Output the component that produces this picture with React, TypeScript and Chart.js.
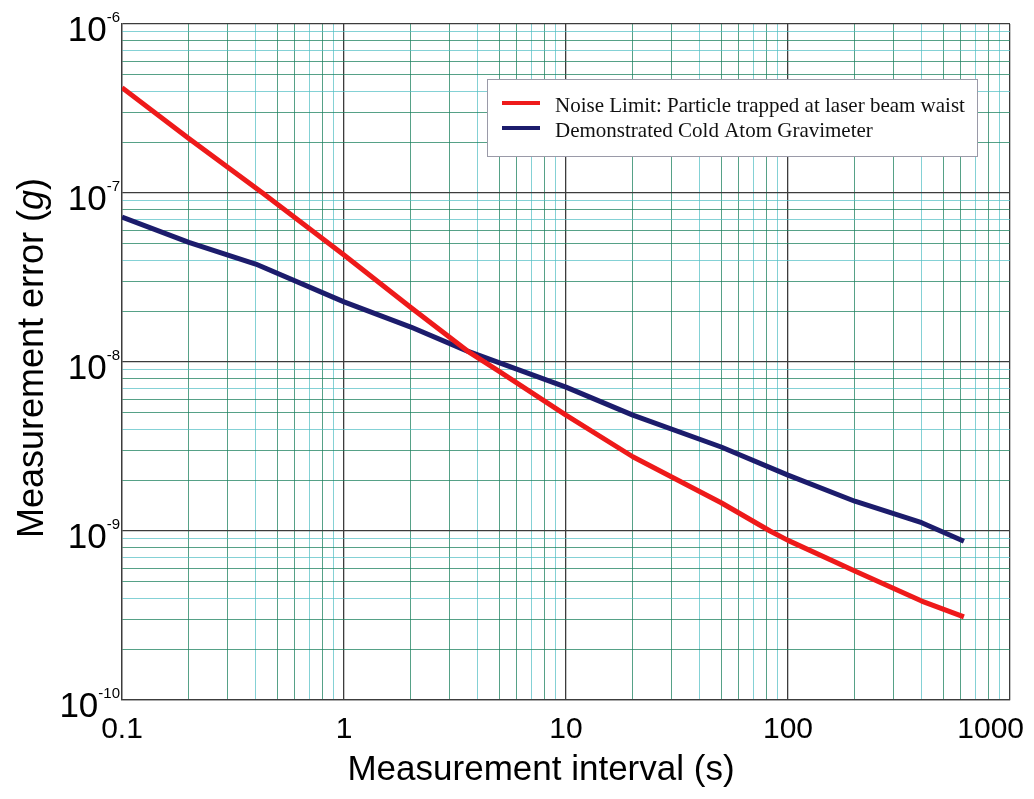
import React, { useEffect, useRef } from "react";
import { Chart, registerables } from "chart.js";

Chart.register(...registerables);

// ---- data ----
const redLabel = "Noise Limit: Particle trapped at laser beam waist";
const redX = [0.1, 0.2, 0.43, 1, 2, 3.6, 5, 10, 20, 50, 83, 100, 200, 400, 620];
const redY = [4.2e-7, 2.1e-7, 1.0e-7, 4.3e-8, 2.1e-8, 1.16e-8, 8.8e-9, 4.85e-9, 2.75e-9, 1.47e-9, 1.0e-9, 8.8e-10, 5.8e-10, 3.85e-10, 3.1e-10];

const blueLabel = "Demonstrated Cold Atom Gravimeter";
const blueX = [0.1, 0.2, 0.4, 1, 2, 3.6, 10, 20, 50, 100, 200, 400, 620];
const blueY = [7.2e-8, 5.1e-8, 3.8e-8, 2.27e-8, 1.61e-8, 1.16e-8, 7.1e-9, 4.85e-9, 3.14e-9, 2.14e-9, 1.5e-9, 1.12e-9, 8.7e-10];

const xDecades = [-1, 0, 1, 2, 3];
const xTickLabels = ["0.1", "1", "10", "100", "1000"];
const yDecades = [-10, -9, -8, -7, -6];
const yTickExponents = ["-10", "-9", "-8", "-7", "-6"];
const mantissas = [1, 2, 3, 4, 5, 6, 7, 8, 9];

const xTitle = "Measurement interval (s)";
const yTitleParts = ["Measurement error (", "g", ")"];

function buildTicks(decades: number[]) {
  const out: { value: number }[] = [];
  decades.forEach((d, i) => {
    if (i === decades.length - 1) {
      out.push({ value: Math.pow(10, d) });
    } else {
      mantissas.forEach((m) => out.push({ value: parseFloat((m * Math.pow(10, d)).toPrecision(6)) }));
    }
  });
  return out;
}

function mantissaOf(v: number) {
  const e = Math.floor(Math.log10(v) + 1e-9);
  return Math.round(v / Math.pow(10, e));
}

function gridColor(ctx: any) {
  const v = ctx.tick ? ctx.tick.value : 1;
  const m = mantissaOf(v);
  if (m === 1) return "#3c3c3c";
  if (m === 4 || m === 7 || m === 9) return "rgba(80,190,195,0.7)";
  return "rgba(30,130,95,0.75)";
}

const overlay = {
  id: "overlay",
  afterDraw(chart: any) {
    const { ctx, chartArea, scales } = chart;
    const xs = scales.x;
    const ys = scales.y;
    ctx.save();
    ctx.fillStyle = "#000";
    // y tick labels 10^n
    yDecades.forEach((d, i) => {
      const py = ys.getPixelForValue(Math.pow(10, d));
      ctx.font = "15px 'Liberation Sans', Arial, sans-serif";
      const ew = ctx.measureText(yTickExponents[i]).width;
      ctx.font = "35px 'Liberation Sans', Arial, sans-serif";
      const bw = ctx.measureText("10").width;
      const right = chartArea.left - 2;
      ctx.textAlign = "left";
      ctx.textBaseline = "alphabetic";
      ctx.fillText("10", right - ew - bw, py + 17);
      ctx.font = "15px 'Liberation Sans', Arial, sans-serif";
      ctx.fillText(yTickExponents[i], right - ew, py - 2);
    });
    // x tick labels
    ctx.font = "30px 'Liberation Sans', Arial, sans-serif";
    ctx.textAlign = "center";
    xDecades.forEach((d, i) => {
      const px = xs.getPixelForValue(Math.pow(10, d));
      const w = ctx.measureText(xTickLabels[i]).width;
      let cx = px;
      if (cx + w / 2 > chart.width - 10) cx = chart.width - 10 - w / 2;
      ctx.fillText(xTickLabels[i], cx, chartArea.bottom + 38);
    });
    // x title
    ctx.font = "35px 'Liberation Sans', Arial, sans-serif";
    ctx.fillText(xTitle, 541, 780);
    // y title with italic g
    ctx.save();
    ctx.translate(43, 358);
    ctx.rotate(-Math.PI / 2);
    const fonts = [
      "36px 'Liberation Sans', Arial, sans-serif",
      "italic 36px 'Liberation Sans', Arial, sans-serif",
      "36px 'Liberation Sans', Arial, sans-serif",
    ];
    let total = 0;
    const widths = yTitleParts.map((p, i) => {
      ctx.font = fonts[i];
      const w = ctx.measureText(p).width;
      total += w;
      return w;
    });
    let x0 = -total / 2;
    ctx.textAlign = "left";
    yTitleParts.forEach((p, i) => {
      ctx.font = fonts[i];
      ctx.fillText(p, x0, 0);
      x0 += widths[i];
    });
    ctx.restore();
    // legend
    const lx = 487, ly = 79, lw = 490, lh = 77;
    ctx.fillStyle = "#ffffff";
    ctx.fillRect(lx, ly, lw, lh);
    ctx.strokeStyle = "#9a9aa8";
    ctx.lineWidth = 1;
    ctx.strokeRect(lx + 0.5, ly + 0.5, lw, lh);
    ctx.font = "21px 'Liberation Serif', 'Times New Roman', serif";
    ctx.textAlign = "left";
    chart.data.datasets.forEach((ds: any, i: number) => {
      const yy = ly + 24 + i * 25;
      ctx.strokeStyle = ds.borderColor;
      ctx.lineWidth = 4;
      ctx.beginPath();
      ctx.moveTo(502, yy);
      ctx.lineTo(540, yy);
      ctx.stroke();
      ctx.fillStyle = "#111";
      ctx.fillText(ds.label, 555, yy + 9);
    });
    ctx.restore();
  },
};

export default function App() {
  const ref = useRef<HTMLCanvasElement>(null);
  useEffect(() => {
    document.body.style.margin = "0";
    const canvas = ref.current!;
    const chart = new Chart(canvas, {
      type: "line",
      data: {
        datasets: [
          {
            label: redLabel,
            data: redX.map((x, i) => ({ x, y: redY[i] })),
            borderColor: "#ee1a1a",
            borderWidth: 5,
            pointRadius: 0,
            tension: 0,
            borderJoinStyle: "round",
            fill: false,
          },
          {
            label: blueLabel,
            data: blueX.map((x, i) => ({ x, y: blueY[i] })),
            borderColor: "#1c1c6c",
            borderWidth: 5,
            pointRadius: 0,
            tension: 0,
            borderJoinStyle: "round",
            fill: false,
          },
        ],
      },
      options: {
        responsive: false,
        animation: false,
        layout: { padding: { left: 0, right: 24, top: 24, bottom: 0 } },
        plugins: { legend: { display: false }, tooltip: { enabled: false } },
        scales: {
          x: {
            type: "logarithmic",
            min: 0.1,
            max: 1000,
            afterBuildTicks: (s: any) => { s.ticks = buildTicks(xDecades); },
            afterFit: (s: any) => { s.height = 99; },
            ticks: { display: false },
            grid: { color: gridColor, lineWidth: (c: any) => (c.tick && mantissaOf(c.tick.value) === 1 ? 1.3 : 1), drawTicks: false },
            border: { display: true, color: "#3c3c3c", width: 1.3 },
          },
          y: {
            type: "logarithmic",
            min: 1e-10,
            max: 1e-6,
            afterBuildTicks: (s: any) => { s.ticks = buildTicks(yDecades); },
            afterFit: (s: any) => { s.width = 122; },
            ticks: { display: false },
            grid: { color: gridColor, lineWidth: (c: any) => (c.tick && mantissaOf(c.tick.value) === 1 ? 1.3 : 1), drawTicks: false },
            border: { display: true, color: "#3c3c3c", width: 1.3 },
          },
        },
      },
      plugins: [overlay],
    } as any);
    return () => chart.destroy();
  }, []);
  return (
    <div style={{ width: 1034, height: 799, background: "#fff" }}>
      <canvas ref={ref} width={1034} height={799} style={{ display: "block" }} />
    </div>
  );
}
